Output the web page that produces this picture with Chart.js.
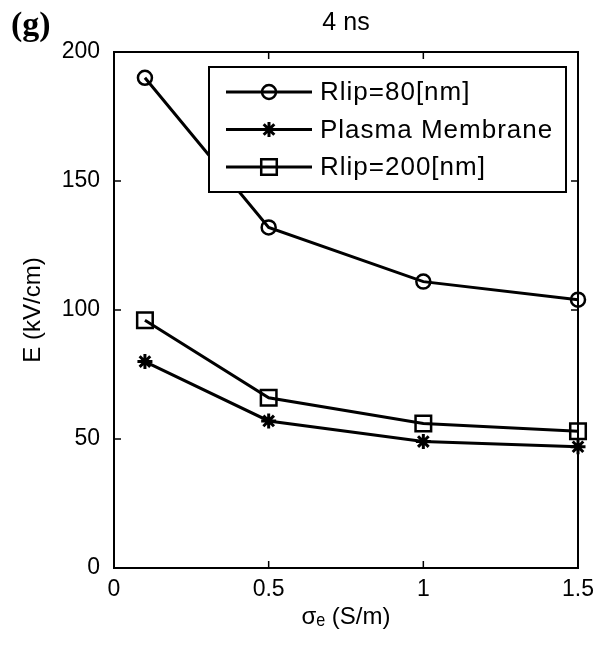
<!DOCTYPE html>
<html>
<head>
<meta charset="utf-8">
<script src="https://cdn.jsdelivr.net/npm/chart.js@4/dist/chart.umd.min.js"></script>
<style>
  html, body { margin: 0; padding: 0; background: #fff; }
</style>
</head>
<body>
<canvas id="fieldChart" width="595" height="652"></canvas>
<script>
// データ
const sigmaE = [0.1, 0.5, 1, 1.5];
const rlip80 = [190, 132, 111, 104];
const plasmaMembrane = [80, 57, 49, 47];
const rlip200 = [96, 66, 56, 53];
const xTicks = [0, 0.5, 1, 1.5];
const yTicks = [0, 50, 100, 150, 200];
const seriesLabels = ['Rlip=80[nm]', 'Plasma Membrane', 'Rlip=200[nm]'];

const FONT = '"Liberation Sans", Arial, "DejaVu Sans", sans-serif';

function toPoints(ys) {
    return sigmaE.map((x, i) => ({ x: x, y: ys[i] }));
}

// 枠と内向きの目盛り
const frameTicks = {
    id: 'frameTicks',
    beforeDatasetsDraw(chart) {
        const { ctx, chartArea: a, scales: { x, y } } = chart;
        ctx.save();
        ctx.strokeStyle = '#000';
        ctx.lineWidth = 2;
        ctx.strokeRect(a.left, a.top, a.right - a.left, a.bottom - a.top);
        ctx.lineWidth = 1.5;
        ctx.beginPath();
        x.ticks.forEach(t => {
            const px = x.getPixelForValue(t.value);
            ctx.moveTo(px, a.bottom); ctx.lineTo(px, a.bottom - 7);
            ctx.moveTo(px, a.top); ctx.lineTo(px, a.top + 7);
        });
        y.ticks.forEach(t => {
            const py = y.getPixelForValue(t.value);
            ctx.moveTo(a.left, py); ctx.lineTo(a.left + 7, py);
            ctx.moveTo(a.right, py); ctx.lineTo(a.right - 7, py);
        });
        ctx.stroke();
        ctx.restore();
    }
};

// 枠付きの凡例 + パネル記号
const boxLegend = {
    id: 'boxLegend',
    afterDraw(chart) {
        const { ctx, chartArea: a } = chart;
        const left = a.left + 95, top = a.top + 15;
        const right = a.right - 12, bottom = top + 125;
        ctx.save();
        ctx.fillStyle = '#fff';
        ctx.fillRect(left, top, right - left, bottom - top);
        ctx.strokeStyle = '#000';
        ctx.lineWidth = 2;
        ctx.strokeRect(left, top, right - left, bottom - top);

        chart.data.datasets.forEach((ds, i) => {
            const rowY = top + 25 + i * 37.5;
            ctx.lineWidth = 3;
            ctx.beginPath();
            ctx.moveTo(left + 17, rowY);
            ctx.lineTo(left + 103, rowY);
            ctx.stroke();
            ctx.fillStyle = 'rgba(0,0,0,0)';
            ctx.lineWidth = ds.pointBorderWidth;
            Chart.helpers.drawPoint(ctx, {
                pointStyle: ds.pointStyle,
                radius: ds.pointRadius,
                borderWidth: ds.pointBorderWidth,
                rotation: 0
            }, left + 60, rowY);
            ctx.fillStyle = '#000';
            ctx.font = '26px ' + FONT;
            ctx.letterSpacing = '1px';
            ctx.textBaseline = 'middle';
            ctx.textAlign = 'left';
            ctx.fillText(ds.label, left + 111, rowY + 1);
            ctx.letterSpacing = '0px';
        });

        ctx.fillStyle = '#000';
        ctx.font = 'bold 34px "Liberation Serif", "DejaVu Serif", serif';
        ctx.textBaseline = 'alphabetic';
        ctx.fillText('(g)', 11, 35);
        ctx.restore();
    }
};

const ctx = document.getElementById('fieldChart').getContext('2d');

new Chart(ctx, {
    type: 'line',
    data: {
        datasets: [
            {
                label: seriesLabels[0],
                data: toPoints(rlip80),
                pointStyle: 'circle',
                pointRadius: 7,
                pointBorderWidth: 2.5
            },
            {
                label: seriesLabels[1],
                data: toPoints(plasmaMembrane),
                pointStyle: 'star',
                pointRadius: 7.5,
                pointBorderWidth: 3
            },
            {
                label: seriesLabels[2],
                data: toPoints(rlip200),
                pointStyle: 'rect',
                pointRadius: 11,
                pointBorderWidth: 2.5
            }
        ].map(ds => Object.assign({
            borderColor: '#000',
            borderWidth: 3,
            pointBorderColor: '#000',
            pointBackgroundColor: 'rgba(0,0,0,0)',
            tension: 0,
            fill: false,
            clip: false
        }, ds))
    },
    options: {
        responsive: false,
        devicePixelRatio: 1,
        animation: false,
        layout: { padding: { left: 0, right: 17, top: 0, bottom: 0 } },
        plugins: {
            legend: { display: false },
            tooltip: { enabled: false },
            title: {
                display: true,
                text: '4 ns',
                fullSize: false,
                color: '#000',
                font: { family: FONT, size: 25, weight: 'normal' },
                padding: { top: 8, bottom: 14 }
            }
        },
        scales: {
            x: {
                type: 'linear',
                min: 0,
                max: 1.5,
                afterBuildTicks: s => { s.ticks = xTicks.map(v => ({ value: v })); },
                afterFit: s => { s.height = 84; s.paddingLeft = 0; s.paddingRight = 0; },
                grid: { display: false, drawTicks: false },
                border: { display: false },
                ticks: {
                    color: '#000',
                    font: { family: FONT, size: 23 },
                    padding: 8,
                    maxRotation: 0,
                    autoSkip: false,
                    callback: v => String(v)
                },
                title: {
                    display: true,
                    text: 'σₑ (S/m)',
                    color: '#000',
                    font: { family: FONT, size: 24 },
                    padding: { top: 0, bottom: 20 }
                }
            },
            y: {
                min: 0,
                max: 200,
                afterBuildTicks: s => { s.ticks = yTicks.map(v => ({ value: v })); },
                afterFit: s => { s.width = 114; s.paddingTop = 0; s.paddingBottom = 0; },
                grid: { display: false, drawTicks: false },
                border: { display: false },
                ticks: {
                    color: '#000',
                    font: { family: FONT, size: 23 },
                    padding: 14,
                    callback: v => String(v)
                },
                title: {
                    display: true,
                    text: 'E (kV/cm)',
                    color: '#000',
                    font: { family: FONT, size: 24 },
                    padding: { top: 19, bottom: 0 }
                }
            }
        }
    },
    plugins: [frameTicks, boxLegend]
});
</script>
</body>
</html>
